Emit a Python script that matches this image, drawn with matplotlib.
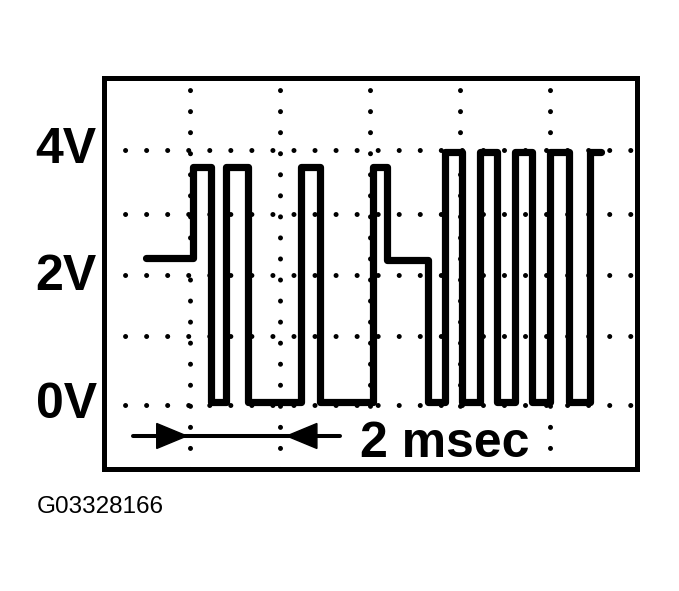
import matplotlib
matplotlib.use("Agg")
import matplotlib.pyplot as plt
from matplotlib.patches import Polygon

# ---- data (time in msec, level in volts) ----
edge_times = [1.02, 2.07, 2.47, 2.80, 3.29, 4.47, 4.89, 6.07, 6.38, 7.29,
              7.67, 8.04, 8.44, 8.82, 9.22, 9.60, 10.00, 10.42, 10.89, 11.13]
levels = [2.30, 3.73, 0.04, 3.73, 0.04, 3.73, 0.04, 3.73, 2.27, 0.04,
          3.97, 0.04, 3.97, 0.04, 3.97, 0.04, 3.97, 0.04, 3.97, 3.97]
x_grid = [2, 4, 6, 8, 10]
y_grid = [0.0, 1.08, 2.04, 3.0, 4.0]
y_tick_vals = [0, 2, 4]
y_tick_labels = ["0V", "2V", "4V"]
scale_start, scale_end = 1.93, 4.15   # arrow tips marking one division
scale_label = "2 msec"
figure_id = "G03328166"

FONT = "Liberation Sans"

fig = plt.figure(figsize=(6.79, 5.91), dpi=100)
ax = fig.add_axes([104.2 / 679, 1 - 469 / 591, (636.7 - 104.2) / 679, (469 - 77.5) / 591])
ax.set_xlim(0.093, 11.927)
ax.set_ylim(-1.004, 5.137)
ax.set_xticks([])
ax.set_yticks([])
for s in ax.spines.values():
    s.set_linewidth(3.6)
    s.set_color("black")
    s.set_zorder(6)

dot = (0, (0.01, 4.2))
for xg in x_grid:
    ax.axvline(xg, color="black", lw=3.6, linestyle=dot, dash_capstyle="round", zorder=1)
for yg in y_grid:
    ax.axhline(yg, color="black", lw=3.6, linestyle=dot, dash_capstyle="round", zorder=1)

ax.plot(edge_times, levels, drawstyle="steps-post", color="black", lw=5.2,
        solid_joinstyle="round", solid_capstyle="round", zorder=3)

# y labels
for v, lab in zip(y_tick_vals, y_tick_labels):
    ax.text(-0.07, v, lab, ha="right", va="center", fontsize=36,
            fontweight="bold", family=FONT, clip_on=False)

# scale arrow
ya = -0.486
ax.plot([0.73, 5.33], [ya, ya], color="black", lw=2.9, solid_capstyle="round", zorder=3)
hh = 0.196
ax.add_patch(Polygon([[scale_start - 0.67, ya - hh], [scale_start, ya], [scale_start - 0.67, ya + hh]],
                     closed=True, color="black", zorder=4))
ax.add_patch(Polygon([[scale_end + 0.67, ya - hh], [scale_end, ya], [scale_end + 0.67, ya + hh]],
                     closed=True, color="black", zorder=4))
ax.text(5.78, -0.816, scale_label, ha="left", va="baseline", fontsize=36,
        fontweight="bold", family=FONT, zorder=5,
        bbox=dict(facecolor="white", edgecolor="none", pad=0.5))

fig.text(37 / 679, 1 - 513 / 591, figure_id, ha="left", va="baseline",
         fontsize=17.5, family=FONT)

fig.savefig("out.png", dpi=100)
